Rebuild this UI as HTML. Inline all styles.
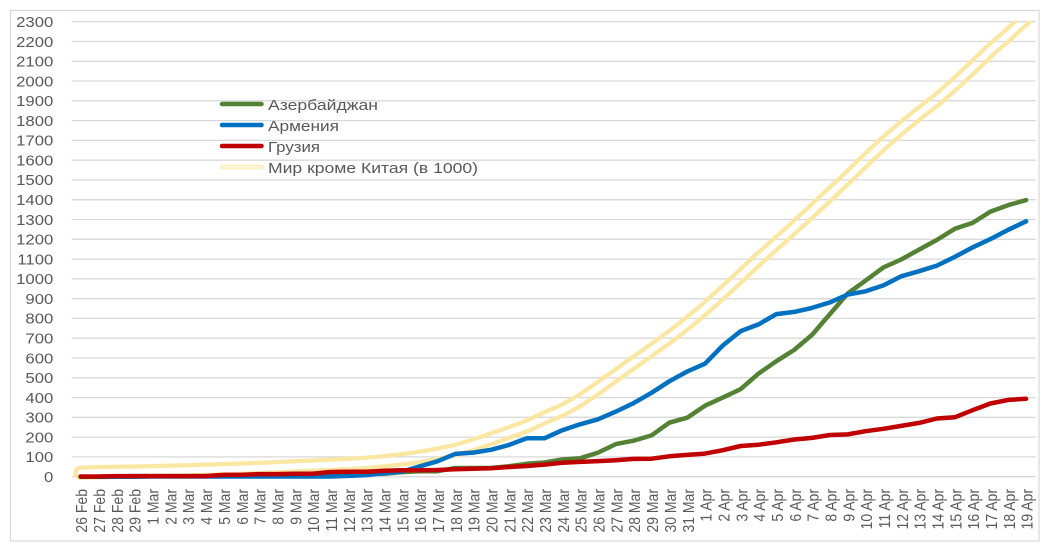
<!DOCTYPE html>
<html>
<head>
<meta charset="utf-8">
<style>
  html,body{margin:0;padding:0;background:#fff;}
  svg{display:block;}
  text{font-family:"Liberation Sans","DejaVu Sans",sans-serif;fill:#595959;}
</style>
</head>
<body>
<svg width="1050" height="556" viewBox="0 0 1050 556" xmlns="http://www.w3.org/2000/svg">
  <defs>
    <clipPath id="plot"><rect x="60" y="20.7" width="985" height="540"/></clipPath>
    <path id="yl" fill="none" stroke-linejoin="round" stroke-linecap="round" d="M80.6,472.7 L98.4,472.3 L116.3,471.9 L134.1,471.6 L152.0,471.2 L169.8,470.8 L187.6,470.4 L205.5,469.8 L223.3,469.2 L241.2,468.6 L259.0,468.0 L276.8,467.2 L294.7,466.4 L312.5,465.6 L330.4,464.8 L348.2,464.0 L366.0,462.9 L383.9,461.3 L401.7,459.3 L419.6,456.9 L437.4,453.7 L455.2,450.2 L473.1,444.9 L490.9,438.9 L508.8,432.6 L526.6,426.1 L544.4,417.9 L562.3,410.2 L580.1,400.3 L598.0,388.1 L615.8,375.4 L633.6,362.7 L651.5,350.1 L669.3,337.2 L687.2,323.4 L705.0,308.5 L722.8,292.5 L740.7,275.9 L758.5,259.1 L776.4,243.3 L794.2,227.4 L812.0,211.0 L829.9,194.2 L847.7,177.6 L865.6,160.2 L883.4,143.4 L901.2,128.1 L919.1,113.5 L936.9,99.8 L954.8,84.0 L972.6,67.4 L990.4,50.2 L1008.3,34.7 L1026.1,18.1"/>
    <mask id="ym" maskUnits="userSpaceOnUse" x="0" y="0" width="1050" height="556">
      <use href="#yl" stroke="#fff" stroke-width="14.5"/>
      <use href="#yl" stroke="#000" stroke-width="6"/>
    </mask>
  </defs>

  <rect x="0" y="0" width="1050" height="556" fill="#fff"/>
  <rect x="10.5" y="10.5" width="1028.5" height="530.5" fill="none" stroke="#d9d9d9" stroke-width="1.2"/>

  <!-- gridlines -->
  <g stroke="#d9d9d9" stroke-width="1.3">
    <line x1="71.7" x2="1035.5" y1="476.7" y2="476.7"/>
    <line x1="71.7" x2="1035.5" y1="456.9" y2="456.9"/>
    <line x1="71.7" x2="1035.5" y1="437.1" y2="437.1"/>
    <line x1="71.7" x2="1035.5" y1="417.3" y2="417.3"/>
    <line x1="71.7" x2="1035.5" y1="397.6" y2="397.6"/>
    <line x1="71.7" x2="1035.5" y1="377.8" y2="377.8"/>
    <line x1="71.7" x2="1035.5" y1="358.0" y2="358.0"/>
    <line x1="71.7" x2="1035.5" y1="338.2" y2="338.2"/>
    <line x1="71.7" x2="1035.5" y1="318.4" y2="318.4"/>
    <line x1="71.7" x2="1035.5" y1="298.7" y2="298.7"/>
    <line x1="71.7" x2="1035.5" y1="278.9" y2="278.9"/>
    <line x1="71.7" x2="1035.5" y1="259.1" y2="259.1"/>
    <line x1="71.7" x2="1035.5" y1="239.3" y2="239.3"/>
    <line x1="71.7" x2="1035.5" y1="219.5" y2="219.5"/>
    <line x1="71.7" x2="1035.5" y1="199.7" y2="199.7"/>
    <line x1="71.7" x2="1035.5" y1="179.9" y2="179.9"/>
    <line x1="71.7" x2="1035.5" y1="160.2" y2="160.2"/>
    <line x1="71.7" x2="1035.5" y1="140.4" y2="140.4"/>
    <line x1="71.7" x2="1035.5" y1="120.6" y2="120.6"/>
    <line x1="71.7" x2="1035.5" y1="100.8" y2="100.8"/>
    <line x1="71.7" x2="1035.5" y1="81.0" y2="81.0"/>
    <line x1="71.7" x2="1035.5" y1="61.3" y2="61.3"/>
    <line x1="71.7" x2="1035.5" y1="41.5" y2="41.5"/>
    <line x1="71.7" x2="1035.5" y1="21.7" y2="21.7"/>
  </g>

  <!-- y labels -->
  <g font-size="14.8" text-anchor="end">
    <text transform="translate(53.3,482.0) scale(1.13,1)">0</text>
    <text transform="translate(53.3,462.2) scale(1.13,1)">100</text>
    <text transform="translate(53.3,442.4) scale(1.13,1)">200</text>
    <text transform="translate(53.3,422.6) scale(1.13,1)">300</text>
    <text transform="translate(53.3,402.9) scale(1.13,1)">400</text>
    <text transform="translate(53.3,383.1) scale(1.13,1)">500</text>
    <text transform="translate(53.3,363.3) scale(1.13,1)">600</text>
    <text transform="translate(53.3,343.5) scale(1.13,1)">700</text>
    <text transform="translate(53.3,323.7) scale(1.13,1)">800</text>
    <text transform="translate(53.3,304.0) scale(1.13,1)">900</text>
    <text transform="translate(53.3,284.2) scale(1.13,1)">1000</text>
    <text transform="translate(53.3,264.4) scale(1.13,1)">1100</text>
    <text transform="translate(53.3,244.6) scale(1.13,1)">1200</text>
    <text transform="translate(53.3,224.8) scale(1.13,1)">1300</text>
    <text transform="translate(53.3,205.0) scale(1.13,1)">1400</text>
    <text transform="translate(53.3,185.2) scale(1.13,1)">1500</text>
    <text transform="translate(53.3,165.5) scale(1.13,1)">1600</text>
    <text transform="translate(53.3,145.7) scale(1.13,1)">1700</text>
    <text transform="translate(53.3,125.9) scale(1.13,1)">1800</text>
    <text transform="translate(53.3,106.1) scale(1.13,1)">1900</text>
    <text transform="translate(53.3,86.3) scale(1.13,1)">2000</text>
    <text transform="translate(53.3,66.6) scale(1.13,1)">2100</text>
    <text transform="translate(53.3,46.8) scale(1.13,1)">2200</text>
    <text transform="translate(53.3,27.0) scale(1.13,1)">2300</text>
  </g>

  <!-- x labels -->
  <g font-size="14" text-anchor="end">
    <text transform="translate(87.2,489) scale(1.15,1) rotate(-90)">26 Feb</text>
    <text transform="translate(105.0,489) scale(1.15,1) rotate(-90)">27 Feb</text>
    <text transform="translate(122.9,489) scale(1.15,1) rotate(-90)">28 Feb</text>
    <text transform="translate(140.7,489) scale(1.15,1) rotate(-90)">29 Feb</text>
    <text transform="translate(158.6,489) scale(1.15,1) rotate(-90)">1 Mar</text>
    <text transform="translate(176.4,489) scale(1.15,1) rotate(-90)">2 Mar</text>
    <text transform="translate(194.2,489) scale(1.15,1) rotate(-90)">3 Mar</text>
    <text transform="translate(212.1,489) scale(1.15,1) rotate(-90)">4 Mar</text>
    <text transform="translate(229.9,489) scale(1.15,1) rotate(-90)">5 Mar</text>
    <text transform="translate(247.8,489) scale(1.15,1) rotate(-90)">6 Mar</text>
    <text transform="translate(265.6,489) scale(1.15,1) rotate(-90)">7 Mar</text>
    <text transform="translate(283.4,489) scale(1.15,1) rotate(-90)">8 Mar</text>
    <text transform="translate(301.3,489) scale(1.15,1) rotate(-90)">9 Mar</text>
    <text transform="translate(319.1,489) scale(1.15,1) rotate(-90)">10 Mar</text>
    <text transform="translate(337.0,489) scale(1.15,1) rotate(-90)">11 Mar</text>
    <text transform="translate(354.8,489) scale(1.15,1) rotate(-90)">12 Mar</text>
    <text transform="translate(372.6,489) scale(1.15,1) rotate(-90)">13 Mar</text>
    <text transform="translate(390.5,489) scale(1.15,1) rotate(-90)">14 Mar</text>
    <text transform="translate(408.3,489) scale(1.15,1) rotate(-90)">15 Mar</text>
    <text transform="translate(426.2,489) scale(1.15,1) rotate(-90)">16 Mar</text>
    <text transform="translate(444.0,489) scale(1.15,1) rotate(-90)">17 Mar</text>
    <text transform="translate(461.8,489) scale(1.15,1) rotate(-90)">18 Mar</text>
    <text transform="translate(479.7,489) scale(1.15,1) rotate(-90)">19 Mar</text>
    <text transform="translate(497.5,489) scale(1.15,1) rotate(-90)">20 Mar</text>
    <text transform="translate(515.4,489) scale(1.15,1) rotate(-90)">21 Mar</text>
    <text transform="translate(533.2,489) scale(1.15,1) rotate(-90)">22 Mar</text>
    <text transform="translate(551.0,489) scale(1.15,1) rotate(-90)">23 Mar</text>
    <text transform="translate(568.9,489) scale(1.15,1) rotate(-90)">24 Mar</text>
    <text transform="translate(586.7,489) scale(1.15,1) rotate(-90)">25 Mar</text>
    <text transform="translate(604.6,489) scale(1.15,1) rotate(-90)">26 Mar</text>
    <text transform="translate(622.4,489) scale(1.15,1) rotate(-90)">27 Mar</text>
    <text transform="translate(640.2,489) scale(1.15,1) rotate(-90)">28 Mar</text>
    <text transform="translate(658.1,489) scale(1.15,1) rotate(-90)">29 Mar</text>
    <text transform="translate(675.9,489) scale(1.15,1) rotate(-90)">30 Mar</text>
    <text transform="translate(693.8,489) scale(1.15,1) rotate(-90)">31 Mar</text>
    <text transform="translate(711.6,489) scale(1.15,1) rotate(-90)">1 Apr</text>
    <text transform="translate(729.4,489) scale(1.15,1) rotate(-90)">2 Apr</text>
    <text transform="translate(747.3,489) scale(1.15,1) rotate(-90)">3 Apr</text>
    <text transform="translate(765.1,489) scale(1.15,1) rotate(-90)">4 Apr</text>
    <text transform="translate(783.0,489) scale(1.15,1) rotate(-90)">5 Apr</text>
    <text transform="translate(800.8,489) scale(1.15,1) rotate(-90)">6 Apr</text>
    <text transform="translate(818.6,489) scale(1.15,1) rotate(-90)">7 Apr</text>
    <text transform="translate(836.5,489) scale(1.15,1) rotate(-90)">8 Apr</text>
    <text transform="translate(854.3,489) scale(1.15,1) rotate(-90)">9 Apr</text>
    <text transform="translate(872.2,489) scale(1.15,1) rotate(-90)">10 Apr</text>
    <text transform="translate(890.0,489) scale(1.15,1) rotate(-90)">11 Apr</text>
    <text transform="translate(907.8,489) scale(1.15,1) rotate(-90)">12 Apr</text>
    <text transform="translate(925.7,489) scale(1.15,1) rotate(-90)">13 Apr</text>
    <text transform="translate(943.5,489) scale(1.15,1) rotate(-90)">14 Apr</text>
    <text transform="translate(961.4,489) scale(1.15,1) rotate(-90)">15 Apr</text>
    <text transform="translate(979.2,489) scale(1.15,1) rotate(-90)">16 Apr</text>
    <text transform="translate(997.0,489) scale(1.15,1) rotate(-90)">17 Apr</text>
    <text transform="translate(1014.9,489) scale(1.15,1) rotate(-90)">18 Apr</text>
    <text transform="translate(1032.7,489) scale(1.15,1) rotate(-90)">19 Apr</text>
  </g>

  <!-- series -->
  <g clip-path="url(#plot)">
    <rect x="0" y="0" width="1050" height="556" fill="#fbe6a2" mask="url(#ym)"/>

    <polyline fill="none" stroke="#548235" stroke-width="4.5" stroke-linejoin="round" stroke-linecap="round"
      points="80.6,476.7 98.4,476.7 116.3,476.5 134.1,476.1 152.0,476.1 169.8,476.1 187.6,476.1 205.5,476.1 223.3,475.5 241.2,475.5 259.0,474.9 276.8,474.9 294.7,474.9 312.5,474.5 330.4,474.5 348.2,474.5 366.0,473.7 383.9,473.7 401.7,472.1 419.6,471.2 437.4,471.2 455.2,468.0 473.1,468.0 490.9,468.0 508.8,466.2 526.6,463.8 544.4,462.5 562.3,459.5 580.1,458.3 598.0,452.6 615.8,444.1 633.6,440.7 651.5,435.4 669.3,422.7 687.2,417.7 705.0,405.7 722.8,397.6 740.7,389.1 758.5,373.6 776.4,361.2 794.2,349.9 812.0,334.9 829.9,314.1 847.7,293.5 865.6,280.6 883.4,267.4 901.2,259.5 919.1,249.6 936.9,239.9 954.8,228.8 972.6,222.9 990.4,211.6 1008.3,205.1 1026.1,200.1"/>

    <polyline fill="none" stroke="#0070c0" stroke-width="4.5" stroke-linejoin="round" stroke-linecap="round"
      points="80.6,476.7 98.4,476.7 116.3,476.7 134.1,476.7 152.0,476.5 169.8,476.5 187.6,476.5 205.5,476.5 223.3,476.5 241.2,476.5 259.0,476.5 276.8,476.5 294.7,476.5 312.5,476.5 330.4,476.5 348.2,475.9 366.0,475.1 383.9,473.1 401.7,471.6 419.6,466.4 437.4,461.3 455.2,453.9 473.1,452.6 490.9,449.8 508.8,445.0 526.6,438.3 544.4,438.3 562.3,430.2 580.1,424.3 598.0,419.3 615.8,411.6 633.6,403.1 651.5,392.8 669.3,381.3 687.2,371.5 705.0,363.7 722.8,345.5 740.7,331.1 758.5,324.4 776.4,314.1 794.2,311.9 812.0,307.9 829.9,302.4 847.7,294.5 865.6,291.3 883.4,285.4 901.2,276.3 919.1,271.2 936.9,265.6 954.8,256.9 972.6,247.4 990.4,239.1 1008.3,229.8 1026.1,221.3"/>

    <polyline fill="none" stroke="#c00000" stroke-width="4.5" stroke-linejoin="round" stroke-linecap="round"
      points="80.6,476.5 98.4,476.5 116.3,476.1 134.1,476.1 152.0,476.1 169.8,476.1 187.6,476.1 205.5,476.1 223.3,474.9 241.2,474.9 259.0,474.1 276.8,474.1 294.7,473.7 312.5,473.7 330.4,472.0 348.2,471.8 366.0,471.8 383.9,470.8 401.7,470.2 419.6,470.2 437.4,470.0 455.2,469.2 473.1,468.8 490.9,468.2 508.8,467.0 526.6,466.0 544.4,464.6 562.3,462.8 580.1,461.9 598.0,461.1 615.8,460.3 633.6,458.9 651.5,458.7 669.3,456.3 687.2,454.9 705.0,453.6 722.8,450.2 740.7,446.0 758.5,444.7 776.4,442.3 794.2,439.5 812.0,437.9 829.9,435.0 847.7,434.4 865.6,431.2 883.4,428.8 901.2,425.9 919.1,422.9 936.9,418.5 954.8,417.3 972.6,410.2 990.4,403.5 1008.3,399.9 1026.1,398.8"/>
  </g>

  <!-- legend -->
  <g stroke-linecap="round">
    <line x1="222" x2="261.5" y1="104" y2="104" stroke="#548235" stroke-width="4.5"/>
    <line x1="222" x2="261.5" y1="125" y2="125" stroke="#0070c0" stroke-width="4.5"/>
    <line x1="222" x2="261.5" y1="146" y2="146" stroke="#c00000" stroke-width="4.5"/>
    <line x1="222" x2="261.5" y1="167" y2="167" stroke="#fcefc6" stroke-width="5"/>
    <line x1="223" x2="260.5" y1="167" y2="167" stroke="#fff7df" stroke-width="1.5"/>
  </g>
  <g font-size="15">
    <text x="268" y="110" textLength="110" lengthAdjust="spacingAndGlyphs">Азербайджан</text>
    <text x="268" y="131" textLength="71" lengthAdjust="spacingAndGlyphs">Армения</text>
    <text x="268" y="152" textLength="52" lengthAdjust="spacingAndGlyphs">Грузия</text>
    <text x="268" y="173" textLength="210" lengthAdjust="spacingAndGlyphs">Мир кроме Китая (в 1000)</text>
  </g>
</svg>
</body>
</html>
